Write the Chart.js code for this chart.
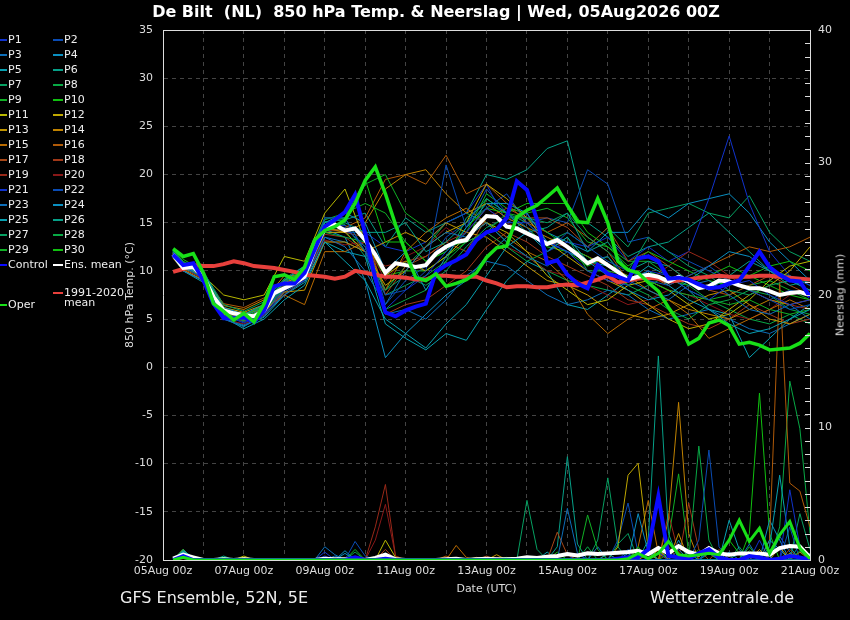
<!DOCTYPE html>
<html>
<head>
<meta charset="utf-8">
<script src="https://cdn.jsdelivr.net/npm/chart.js@4.4.1/dist/chart.umd.min.js"></script>
<style>
  body { margin: 0; background: #000; }
  #wrap { position: relative; width: 850px; height: 620px; background: #000; color: #eee;
          font-family: "DejaVu Sans", "Liberation Sans", sans-serif; overflow: hidden; }
  #myChart { position: absolute; left: 0; top: 0; }
  .txt { position: absolute; white-space: pre; }
  .leg { position: absolute; font-size: 11px; line-height: 14px; white-space: nowrap; color: #eee; }
  .sw { position: absolute; height: 2px; }
</style>
</head>
<body>
<div id="wrap">
  <canvas id="myChart" width="850" height="620"></canvas>
  <div class="txt" style="left:0;width:872px;top:2px;text-align:center;font-size:16px;font-weight:bold;line-height:20px;color:#fff">De Bilt  (NL)  850 hPa Temp. &amp; Neerslag | Wed, 05Aug2026 00Z</div>
  <div class="txt" style="left:120px;top:588px;font-size:16px;line-height:20px">GFS Ensemble, 52N, 5E</div>
  <div class="txt" style="left:650px;top:588px;font-size:16px;line-height:20px">Wetterzentrale.de</div>
  <div class="txt" style="left:840px;top:295px;font-size:11px;line-height:13px;color:#ddd;transform:translate(-50%,-50%) rotate(-90deg)">Neerslag (mm)</div>
  <div id="legend"></div>
</div>
<script>
// tijdas: uren na 05Aug 00z
const DATE_LABELS = ['05Aug 00z', '07Aug 00z', '09Aug 00z', '11Aug 00z', '13Aug 00z',
  '15Aug 00z', '17Aug 00z', '19Aug 00z', '21Aug 00z'];
const STEP_HOURS = Array.from({ length: 64 }, (_, i) => 6 * (i + 1));       // 6h stappen
const MEMBER_HOURS = [6].concat(Array.from({ length: 32 }, (_, i) => 12 * (i + 1)));

const MEMBER_NAMES = ['P1','P2','P3','P4','P5','P6','P7','P8','P9','P10',
  'P11','P12','P13','P14','P15','P16','P17','P18','P19','P20',
  'P21','P22','P23','P24','P25','P26','P27','P28','P29','P30'];
const MEMBER_COLORS = ['#1133cc','#0a4cb4','#0d6eb8','#0a8fc0','#08a0b0','#06a088','#06a062','#08a845','#10b025','#10c010',
  '#b8b800','#c0a800','#c09400','#c08200','#b86a00','#b05a08','#a84818','#a03818','#982818','#881818',
  '#1133cc','#0a4cb4','#0d6eb8','#0a8fc0','#08a0b0','#06a088','#06a062','#08a845','#10b025','#10c010'];

// 850 hPa temperatuur (°C) per member, op MEMBER_HOURS
const MEMBER_TEMP = [
  [11.8,10.8,9.6,5.4,4.6,5.5,8.0,9.0,14.5,14.5,12.5,6.0,8.0,9.5,12.0,14.0,16.5,15.0,15.0,13.0,12.0,10.0,9.0,8.5,10.0,9.5,8.0,7.0,8.5,9.0,7.5,6.5,7.0],
  [11.5,10.5,9.2,6.0,5.0,6.0,8.5,9.8,15.5,15.5,12.0,7.5,8.0,10.0,21.0,14.5,18.5,16.0,14.5,12.0,14.0,12.5,11.0,10.0,9.0,8.5,9.5,10.5,9.0,8.0,7.0,6.0,6.5],
  [12.0,10.0,9.0,5.0,4.2,5.5,7.5,9.0,13.5,12.5,10.0,6.5,10.0,12.5,14.0,13.5,15.0,13.0,11.5,10.5,12.0,11.0,11.5,9.0,8.0,7.0,8.5,9.0,7.5,6.0,5.5,6.5,5.0],
  [11.6,10.2,9.8,6.2,5.5,6.5,9.0,10.5,15.0,16.0,15.0,10.0,12.0,8.0,11.5,14.5,17.0,17.0,16.0,13.0,12.0,11.0,9.5,8.0,7.0,7.5,9.0,10.5,12.0,11.5,10.0,9.0,8.0],
  [11.4,10.0,8.8,5.2,4.0,5.0,7.0,8.5,13.0,11.0,9.0,5.0,3.5,2.0,4.5,6.5,9.5,12.5,14.0,12.0,13.5,11.0,10.5,9.0,10.0,8.5,7.0,6.0,4.5,3.5,4.0,5.0,6.0],
  [11.9,10.6,9.5,5.8,5.3,6.2,8.8,10.0,14.8,15.0,14.0,14.0,15.0,12.0,13.0,15.0,17.5,16.0,14.0,14.5,16.0,12.0,13.0,10.0,11.0,10.5,9.0,8.0,9.5,11.0,10.0,8.5,9.0],
  [12.2,10.9,9.9,6.5,5.8,6.8,9.2,10.5,15.5,15.5,12.0,8.0,9.5,8.5,10.0,12.5,14.5,15.5,15.5,15.0,16.0,13.5,12.0,10.0,13.5,12.0,10.5,9.5,8.0,7.5,8.5,9.0,8.0],
  [11.7,10.4,9.3,5.6,4.8,5.8,8.2,9.5,14.0,13.5,13.0,6.0,7.0,8.0,11.0,13.0,14.0,12.5,11.0,12.0,13.5,10.0,10.0,8.5,7.5,6.0,5.0,6.5,7.0,8.0,7.5,6.0,5.5],
  [11.9,10.9,9.7,6.0,5.2,6.0,8.5,9.5,14.5,15.0,19.0,20.0,16.0,14.5,12.5,13.0,14.0,16.0,15.5,14.0,12.5,11.5,10.0,9.5,9.0,8.0,7.5,7.0,6.5,7.0,6.0,5.5,6.0],
  [12.1,11.2,10.0,6.0,5.4,6.4,9.0,10.0,15.0,15.5,19.5,13.0,13.0,11.0,12.0,14.5,16.5,16.0,17.0,17.0,17.0,14.0,12.5,10.5,12.0,11.0,10.0,9.0,8.5,9.5,10.5,11.0,10.0],
  [11.5,10.3,9.5,7.5,7.0,7.5,11.5,11.0,16.0,18.5,13.0,9.5,11.0,10.0,11.5,13.5,15.0,14.0,12.0,9.5,8.0,6.5,7.0,8.5,9.0,8.0,6.5,5.0,5.5,7.0,9.0,10.5,11.0],
  [11.8,10.5,9.4,6.2,5.7,6.5,8.8,9.5,14.0,14.0,12.0,8.5,10.0,12.5,14.0,15.0,19.0,17.5,15.5,13.0,11.5,10.0,9.0,8.0,6.5,5.0,4.0,4.5,6.0,7.5,8.5,10.0,12.5],
  [11.6,10.1,9.0,5.5,5.0,5.8,7.8,8.0,13.0,13.0,12.0,13.0,14.0,13.0,15.0,14.0,13.5,12.0,10.5,9.0,8.5,7.5,6.0,5.5,5.0,5.5,6.5,7.5,8.0,6.5,5.0,4.5,5.5],
  [11.9,10.7,9.6,6.4,6.0,7.0,9.5,9.5,14.5,14.0,15.0,18.5,20.0,20.5,18.0,16.0,17.0,15.5,14.5,13.5,12.5,11.5,10.5,9.5,8.0,7.0,6.0,5.5,5.0,6.0,7.0,6.5,7.0],
  [11.3,10.0,9.1,5.9,5.6,6.0,7.5,6.5,12.0,12.0,13.0,8.0,12.0,14.0,15.5,16.5,15.0,13.5,12.0,11.0,9.0,5.5,3.5,5.0,6.0,7.0,5.5,3.0,4.0,5.0,6.0,7.0,6.0],
  [11.7,10.5,9.4,6.6,6.2,7.2,9.0,10.0,14.5,14.5,15.5,19.5,20.0,19.0,22.0,18.0,19.0,17.0,15.0,14.0,15.0,13.5,12.0,9.0,9.5,8.5,9.5,10.5,11.5,12.5,12.0,12.5,13.5],
  [11.5,10.2,9.2,5.7,5.1,6.2,8.4,9.8,14.2,14.3,14.0,7.5,10.5,11.5,13.0,12.0,15.5,16.5,15.5,15.5,14.5,12.5,14.5,11.0,12.0,10.5,9.0,8.0,7.5,8.5,9.5,8.5,7.5],
  [11.8,10.6,9.5,6.0,5.5,6.4,8.6,9.6,14.4,14.0,13.5,5.5,6.5,7.0,8.5,10.0,12.5,14.0,13.0,11.5,10.5,9.5,8.5,7.0,6.5,5.5,4.5,4.0,5.0,6.5,5.5,4.5,5.0],
  [11.6,10.4,9.3,5.3,4.8,5.7,8.0,9.2,13.8,13.5,12.0,10.5,11.0,11.5,13.0,14.0,16.5,15.0,14.0,13.0,12.5,11.0,10.0,9.5,9.0,10.5,12.0,11.0,9.5,8.0,7.0,6.5,6.0],
  [11.4,10.1,9.0,5.0,4.5,5.4,7.6,9.0,13.2,12.7,13.0,9.0,11.5,12.5,14.5,13.0,14.0,12.5,11.5,10.0,9.5,8.5,7.5,6.5,7.0,8.0,7.5,6.5,5.5,5.0,6.0,7.5,8.0],
  [12.0,10.7,9.6,5.6,4.9,5.9,8.3,9.4,14.6,14.7,14.0,12.5,12.0,13.0,15.0,16.0,19.0,15.0,16.0,12.0,13.0,12.5,13.5,11.0,12.5,11.0,12.0,17.5,24.0,17.0,12.0,9.5,8.5],
  [11.7,10.5,9.4,5.4,4.7,5.6,8.0,9.3,14.0,14.0,14.0,6.5,9.0,10.5,13.5,15.0,16.5,18.0,15.0,15.5,15.0,20.5,19.0,13.0,13.5,12.0,11.0,10.0,9.0,8.0,7.0,8.0,7.5],
  [11.6,10.3,9.3,5.1,4.4,5.3,7.8,9.0,13.5,13.0,12.0,5.5,6.0,5.0,7.0,9.5,11.0,10.5,9.0,7.5,6.5,7.0,8.0,7.5,6.0,5.0,5.5,6.0,5.0,4.0,3.5,4.5,5.5],
  [11.8,10.4,9.5,5.5,4.9,5.7,8.1,9.5,14.3,13.5,9.0,1.0,3.5,5.5,7.5,9.0,11.5,13.5,15.5,14.0,13.0,12.0,14.0,14.0,16.5,15.5,17.0,17.5,18.0,16.0,13.0,11.0,9.0],
  [11.5,10.0,9.0,5.0,4.3,5.2,7.5,8.8,13.0,12.0,11.5,4.5,3.0,1.8,3.5,2.8,6.0,9.0,11.0,10.0,6.5,6.0,7.5,9.0,10.5,9.5,8.0,6.0,5.5,1.0,3.0,5.0,6.5],
  [11.9,10.7,9.6,5.9,5.4,6.3,8.9,10.1,15.1,15.3,16.0,12.5,15.5,14.0,15.0,16.0,20.0,19.5,20.5,22.7,23.5,15.0,13.5,11.5,12.5,13.0,14.5,16.0,14.0,12.0,10.0,9.5,8.5],
  [11.8,10.6,9.4,5.7,5.0,6.0,8.4,9.6,14.4,14.2,11.5,7.5,8.5,9.5,11.0,15.5,17.0,16.0,15.0,13.0,14.0,12.5,14.5,12.5,16.0,16.5,17.0,16.0,15.5,17.8,14.0,12.0,11.0],
  [12.0,10.8,9.7,5.8,5.1,6.1,8.6,9.8,14.7,14.8,12.0,8.0,10.5,12.5,15.0,16.0,15.0,13.0,11.5,10.0,9.0,8.5,8.0,7.5,8.5,9.5,8.5,7.0,6.0,5.0,4.5,5.5,4.5],
  [12.1,11.0,9.8,6.1,5.3,6.5,9.1,10.2,15.3,16.0,17.0,16.0,13.0,11.0,12.0,14.0,18.0,16.5,16.0,16.5,15.5,13.0,12.5,11.0,11.0,9.5,8.0,7.0,7.5,8.5,9.0,8.0,7.0],
  [11.8,10.8,9.5,5.6,4.9,5.9,8.4,9.7,14.5,14.5,12.5,9.5,10.0,10.0,11.5,13.0,17.5,16.0,14.5,12.5,12.0,10.5,11.5,8.5,10.0,9.0,8.5,9.5,10.5,9.5,8.5,7.5,7.0]
];

// neerslag (mm) per member, op STEP_HOURS
const MEMBER_PREC = [
  [0,.4,0,0,0,0,0,0, 0,0,0,0,0,0,0,.3, 0,0,0,0,0,0,0,0, 0,0,0,0,0,0,0,0, 0,0,0,0,0,0,0,0, .5,0,0,0,0,0,0,0, .6,0,0,0,0,.8,0,0, 0,0,0,0,0,5.3,1,0],
  [0,.3,0,0,0,0,0,0, 0,0,0,0,0,0,0,0, 0,0,1.4,.3,0,0,0,0, 0,0,0,0,0,0,0,0, 0,0,0,0,0,0,0,0, 0,0,0,0,0,.8,0,0, 0,0,0,0,1.5,8.3,1,0, 0,0,.6,0,0,0,0,0],
  [0,.5,0,0,0,0,0,0, 0,0,0,0,0,0,0,1, .4,0,0,0,0,0,0,0, 0,0,0,0,0,0,0,0, 0,0,0,0,0,0,0,3.9, .5,0,0,0,0,0,0,0, 0,0,.8,0,0,0,0,0, 0,1.2,0,0,0,0,0,.5],
  [0,.6,0,0,0,0,0,0, 0,0,0,0,0,0,0,0, 0,.7,0,0,0,.3,0,0, 0,0,0,0,0,0,0,0, 0,0,0,0,0,0,0,0, 0,0,0,0,0,0,3.5,.6, 0,0,0,0,0,0,0,.6, 0,0,0,1.5,.8,0,0,0],
  [0,.7,.2,0,0,0,0,0, 0,0,0,0,0,0,0,0, 0,0,0,0,0,0,0,0, 0,0,0,0,0,0,0,0, 0,0,0,0,0,0,0,0, 0,0,0,.5,0,0,0,0, 0,0,0,.6,0,0,0,0, 0,0,0,1,6.4,1,0,0],
  [0,.5,0,0,0,.3,0,0, 0,0,0,0,0,0,0,0, 0,0,0,0,0,0,0,0, 0,0,0,0,0,0,0,0, 0,0,0,0,0,0,0,0, 0,0,0,0,0,0,0,1.5, 15.4,2,0,0,0,0,0,0, .6,0,0,0,0,0,0,0],
  [0,.8,0,0,0,0,0,0, 0,0,0,0,0,0,0,0, 0,0,0,0,0,0,0,0, 0,0,0,0,0,0,0,0, 0,0,0,4.5,.8,0,0,0, 0,0,0,0,1.2,2,0,0, 0,0,0,0,0,1,0,0, 0,0,0,0,0,0,0,0],
  [0,.4,0,0,0,0,0,0, 0,0,0,0,0,0,0,0, 0,0,.6,0,0,0,0,0, 0,0,0,0,0,0,0,0, 0,0,0,0,0,0,0,0, 0,1,0,0,0,0,0,0, 0,0,0,0,8.6,1.5,0,0, 0,0,0,0,0,0,.7,0],
  [0,.3,0,0,0,.2,0,0, 0,0,0,0,0,0,0,0, 0,0,0,0,0,0,0,0, 0,0,0,0,0,0,0,0, 0,0,0,0,0,0,0,0, 0,3.4,.8,0,0,0,0,0, 0,.5,0,0,0,0,0,0, 0,.7,0,0,0,0,0,0],
  [0,.6,0,0,0,0,0,0, 0,0,0,0,0,0,0,0, 0,0,0,0,.2,0,0,0, 0,0,0,0,0,0,0,0, 0,0,0,0,0,0,.6,0, 0,0,0,0,0,0,1,0, 0,0,0,0,0,0,0,1.5, .5,0,0,0,0,0,0,0],
  [0,.8,0,0,0,0,0,.3, 0,0,0,0,0,0,0,0, 0,0,0,0,0,1.5,.2,0, 0,0,0,0,0,0,0,0, 0,0,0,0,0,0,0,0, 0,0,0,0,0,0,0,0, .8,0,0,0,0,0,0,0, 0,0,0,0,0,.5,0,0],
  [0,.6,0,0,0,0,0,.2, 0,0,0,0,0,0,0,0, 0,0,0,0,0,0,0,0, 0,0,0,0,0,0,0,0, 0,0,0,0,0,0,0,0, 0,0,0,0,1,6.4,7.3,.8, 0,0,0,0,0,0,0,0, 0,0,0,0,1,0,0,0],
  [0,.4,0,0,0,0,0,0, 0,0,0,0,0,0,0,0, 0,0,0,0,0,0,0,0, 0,0,0,0,0,0,0,0, .4,0,0,0,0,0,0,0, 0,0,0,0,0,0,0,.5, 0,0,2,0,0,0,0,0, 0,0,.8,0,0,0,0,0],
  [0,.3,0,0,0,0,0,0, 0,0,0,0,0,0,0,0, 0,0,0,0,0,0,0,0, 0,0,0,0,0,0,.2,0, 0,0,0,0,0,0,0,0, 0,0,0,0,0,0,0,0, 0,3,11.9,2,0,0,0,0, 0,0,0,0,0,0,.6,0],
  [0,.2,0,0,0,0,0,0, 0,0,0,0,0,0,0,0, 0,0,0,0,0,0,0,0, 0,0,0,0,1.1,.2,0,0, 0,0,0,0,0,0,0,0, 0,0,0,0,0,0,1,4.5, .5,0,0,0,0,0,0,0, 0,.4,0,0,0,0,0,0],
  [0,.3,0,0,0,0,0,0, 0,0,0,0,0,0,0,0, 0,0,0,0,0,0,0,0, 0,0,0,.3,0,0,0,0, 0,0,0,0,0,0,0,0, 0,0,0,0,0,0,0,0, 0,0,0,0,0,0,0,0, 0,0,0,1.5,21,5.8,5.2,2.5],
  [0,.2,0,0,0,0,0,0, 0,0,0,0,0,0,0,0, 0,0,0,0,0,0,0,0, 0,0,0,0,0,0,0,.3, 0,0,0,0,0,0,2.1,.4, 0,0,0,0,0,0,0,0, 0,0,0,0,0,0,.8,0, 0,0,0,0,0,.8,0,0],
  [0,.3,0,0,0,0,0,0, 0,0,0,0,0,0,0,0, 0,0,0,0,0,.8,0,0, 0,0,0,0,0,0,0,0, 0,0,0,0,0,0,0,0, 0,0,0,0,0,0,0,0, 0,1,0,4.3,.8,0,0,0, 0,0,0,0,0,0,0,0],
  [0,.2,0,0,0,0,0,0, 0,0,0,0,0,0,0,0, 0,0,0,0,2.5,5.7,.3,0, 0,0,0,0,0,0,0,0, 0,0,0,0,0,0,0,0, 0,0,0,.5,0,0,0,0, 0,3.5,.5,0,0,0,0,0, 0,0,0,0,0,0,0,0],
  [0,.1,0,0,0,0,0,0, 0,0,0,0,0,0,0,0, 0,0,0,0,1.5,4.2,.3,0, 0,0,0,0,0,0,0,0, .2,0,0,0,0,0,0,0, 0,0,0,0,0,0,0,0, 0,0,0,0,0,0,0,0, .6,0,0,0,0,0,0,0],
  [0,.4,0,0,0,0,0,0, 0,0,0,0,0,0,0,.6, 0,0,0,0,0,0,0,0, 0,0,0,0,0,0,0,0, 0,0,0,0,0,0,0,0, 0,0,0,0,0,0,0,.7, 0,0,0,0,0,0,0,0, 0,0,1.5,0,0,0,0,.3],
  [0,.4,0,0,0,0,0,0, 0,0,0,0,0,0,0,0, 0,0,0,0,0,0,0,0, 0,0,0,0,0,0,0,0, 0,0,0,0,0,0,0,0, 0,0,0,0,1.5,4.3,.5,0, 0,0,0,0,0,0,0,0, 0,0,0,0,0,2.5,0,0],
  [0,.5,0,0,0,0,0,0, 0,0,0,0,0,0,0,0, .3,0,0,0,0,0,0,0, 0,0,0,0,0,0,0,0, 0,0,0,0,0,0,0,0, 0,0,1,0,0,0,0,0, 0,0,0,0,0,.6,0,0, 0,0,0,0,1.8,.6,0,0],
  [0,.6,0,0,0,0,0,0, 0,0,0,0,0,0,0,0, 0,.5,0,0,0,0,0,0, 0,0,0,0,0,0,0,0, 0,0,0,0,0,0,0,0, 0,0,0,0,0,.5,0,0, 0,0,1.5,0,0,0,0,0, 0,0,0,3,1.5,0,0,0],
  [0,.5,0,0,0,0,0,0, 0,0,0,0,0,0,0,0, 0,0,.2,0,0,0,0,0, 0,0,0,0,0,0,0,0, 0,0,0,0,0,.6,0,0, 0,0,0,0,0,0,0,0, 1,0,0,0,0,0,0,3, .8,0,0,0,0,0,0,0],
  [0,.6,0,0,0,0,0,0, 0,0,0,0,0,0,0,0, 0,0,0,0,0,0,0,0, 0,0,0,0,0,0,0,0, 0,0,0,0,0,0,1,7.8, 1.2,0,0,0,0,0,0,0, 0,0,0,0,0,.5,0,0, 0,0,0,0,0,0,1.2,0],
  [0,.7,0,0,0,0,0,0, 0,0,0,0,0,0,0,0, 0,0,0,0,0,0,0,0, 0,0,0,0,0,0,0,0, 0,0,0,0,0,0,0,0, 0,0,1.5,6.2,1,0,0,0, 0,0,0,0,0,0,0,0, 1,0,0,0,0,0,3.5,.8],
  [0,.5,0,0,0,.2,0,0, 0,0,0,0,0,0,0,0, 0,0,0,0,0,0,0,0, 0,0,0,0,0,0,0,0, 0,0,0,0,0,0,0,0, 0,0,0,0,0,0,0,.8, 0,0,0,0,0,0,0,0, 0,0,0,0,2.5,13.5,9.9,2],
  [0,.8,0,0,0,0,0,0, 0,0,0,0,0,0,0,0, 0,0,.8,0,0,0,0,0, 0,0,0,0,0,0,0,0, 0,0,0,0,0,0,0,0, 0,0,0,0,0,0,0,0, 0,1.5,6.5,.5,0,0,0,0, 0,1,0,0,0,0,0,0],
  [0,.7,0,0,0,0,0,0, 0,0,0,0,0,0,0,0, 0,0,0,0,0,0,0,0, 0,0,0,0,0,0,0,0, 0,.2,0,0,0,0,0,0, 0,0,0,0,0,0,0,0, 0,0,0,0,.8,0,0,0, 0,2,12.6,2,0,0,0,0]
];

// operationele run, control, ensemble-gemiddelde en klimaat (op STEP_HOURS)
const OPER_TEMP = [12.3,11.5,11.8,9.8,6.6,5.8,4.9,5.6, 4.7,6.6,9.4,9.6,9.1,10.4,13.2,14.2,
  14.6,15.3,17.0,19.4,20.8,18.0,14.8,11.9, 9.3,9.0,9.7,8.4,8.7,9.1,9.8,11.4,
  12.4,12.6,15.6,16.3,16.8,17.7,18.6,16.8, 15.1,15.0,17.5,15.0,11.0,10.1,9.8,8.8,
  7.9,6.2,4.7,2.4,3.0,4.6,4.9,4.3, 2.4,2.6,2.3,1.8,1.9,2.0,2.5,3.5];
const CONTROL_TEMP = [11.7,10.6,10.8,9.0,6.6,5.1,5.1,5.2, 4.7,5.9,8.4,8.7,8.7,9.8,12.2,14.6,
  15.3,16.1,17.9,13.9,9.2,5.7,5.3,5.9, 6.3,6.6,9.9,10.6,11.1,11.7,13.2,14.0,
  14.3,15.5,19.3,18.4,15.3,10.8,11.1,9.6, 8.7,8.2,10.6,9.7,9.4,9.0,11.3,11.5,
  11.0,9.2,9.3,9.1,8.6,8.2,8.3,8.7, 9.0,10.5,12.0,10.4,9.6,9.0,8.9,7.3];
const MEAN_TEMP = [11.7,10.3,10.4,9.4,7.3,5.9,5.6,5.4, 5.3,5.9,7.7,8.2,8.7,9.4,12.2,14.4,
  14.8,14.2,14.4,13.2,11.7,9.8,10.8,10.6, 10.4,10.6,11.8,12.5,13.0,13.2,14.6,15.7,
  15.6,14.6,14.4,13.9,13.4,12.8,13.2,12.5, 11.7,10.8,11.3,10.6,9.9,9.1,9.4,9.6,
  9.4,8.9,9.4,8.9,8.2,8.4,9.0,8.9, 8.5,8.2,8.2,7.9,7.5,7.7,7.8,7.5];
const CLIM_TEMP = [9.9,10.2,10.6,10.5,10.5,10.7,11.0,10.8, 10.5,10.4,10.3,10.1,9.9,9.6,9.5,9.4,
  9.2,9.4,10.0,9.8,9.6,9.4,9.4,9.3, 9.1,9.1,9.5,9.5,9.4,9.4,9.4,9.0,
  8.7,8.3,8.4,8.4,8.3,8.3,8.5,8.6, 8.5,8.8,9.1,9.5,8.8,9.0,9.2,9.3,
  9.2,8.9,9.0,9.1,9.3,9.4,9.5,9.4, 9.4,9.4,9.5,9.5,9.4,9.3,9.2,9.1];

const OPER_PREC = [0,.2,0,0,0,0,0,0, 0,0,0,0,0,0,0,0, 0,0,0,0,0,0,0,0, 0,0,0,0,0,0,0,0,
  0,0,0,0,0,0,0,0, 0,0,0,0,0,.1,.5,.1, .5,1.4,.4,.3,.4,.5,.4,1.5, 3.0,1.4,2.4,.5,1.9,2.9,.9,.1];
const CONTROL_PREC = [0,.3,0,0,0,0,0,0, 0,0,0,0,0,0,0,0, 0,0,.2,0,0,.1,0,0, 0,0,0,0,0,0,0,0,
  0,0,0,0,0,0,0,0, 0,0,0,0,.1,.2,.2,.8, 4.8,.3,.2,.1,.5,.8,.2,0, 0,.3,.2,0,.1,.3,.2,0];
const MEAN_PREC = [.1,.4,.2,0,0,.05,0,.05, 0,0,0,0,0,0,0,.1, .05,.05,.1,0,.15,.4,.05,0,
  0,0,0,.05,.1,0,.05,.1, .05,.05,.1,.2,.15,.25,.3,.45, .35,.5,.45,.5,.55,.6,.7,.45,
  .9,.5,1.05,.6,.4,.9,.5,.4, .5,.5,.5,.4,.9,1.05,1,.2];

function pts(hours, vals) {
  return vals.map((v, i) => ({ x: hours[i], y: v }));
}

const datasets = [];
MEMBER_NAMES.forEach((name, i) => {
  datasets.push({ label: name, data: pts(MEMBER_HOURS, MEMBER_TEMP[i]), yAxisID: 'y',
    borderColor: MEMBER_COLORS[i], borderWidth: 1, order: 10 });
  datasets.push({ label: name + ' neerslag', data: pts(STEP_HOURS, MEMBER_PREC[i]), yAxisID: 'y2',
    borderColor: MEMBER_COLORS[i], borderWidth: 1, order: 10 });
});
datasets.push(
  { label: '1991-2020 mean', data: pts(STEP_HOURS, CLIM_TEMP), yAxisID: 'y', borderColor: '#e8403c', borderWidth: 4, order: 4 },
  { label: 'Ens. mean', data: pts(STEP_HOURS, MEAN_TEMP), yAxisID: 'y', borderColor: '#ffffff', borderWidth: 4, order: 3 },
  { label: 'Ens. mean neerslag', data: pts(STEP_HOURS, MEAN_PREC), yAxisID: 'y2', borderColor: '#ffffff', borderWidth: 4, order: 3 },
  { label: 'Control', data: pts(STEP_HOURS, CONTROL_TEMP), yAxisID: 'y', borderColor: '#0a0aff', borderWidth: 4, order: 2 },
  { label: 'Control neerslag', data: pts(STEP_HOURS, CONTROL_PREC), yAxisID: 'y2', borderColor: '#0a0aff', borderWidth: 4, order: 2 },
  { label: 'Oper', data: pts(STEP_HOURS, OPER_TEMP), yAxisID: 'y', borderColor: '#18e018', borderWidth: 3.5, order: 1 },
  { label: 'Oper neerslag', data: pts(STEP_HOURS, OPER_PREC), yAxisID: 'y2', borderColor: '#18e018', borderWidth: 3, order: 1 }
);

// kader bovenrand + korte streepjes rechter as
const framePlugin = {
  id: 'frame',
  afterDraw(chart) {
    const { ctx, chartArea: a, scales } = chart;
    ctx.save();
    ctx.strokeStyle = '#ddd';
    ctx.lineWidth = 1;
    ctx.beginPath();
    ctx.moveTo(a.left, a.top + 0.5);
    ctx.lineTo(a.right, a.top + 0.5);
    scales.y2.ticks.forEach(t => {
      const y = Math.round(scales.y2.getPixelForValue(t.value)) + 0.5;
      ctx.moveTo(a.right - 5, y);
      ctx.lineTo(a.right, y);
    });
    ctx.stroke();
    ctx.restore();
  }
};

const tickFont = { family: '"DejaVu Sans", sans-serif', size: 11 };

const config = {
  type: 'line',
  data: { datasets: datasets },
  options: {
    responsive: false,
    animation: false,
    elements: { point: { radius: 0 }, line: { tension: 0 } },
    layout: { padding: { left: 115, right: 0, top: 30, bottom: 24 } },
    plugins: { legend: { display: false }, tooltip: { enabled: false } },
    scales: {
      x: {
        type: 'linear', min: 0, max: 384,
        ticks: { stepSize: 24, autoSkip: false, maxRotation: 0, color: '#ddd', font: tickFont, padding: 5,
          callback: v => (v % 48 === 0 ? DATE_LABELS[v / 48] : '') },
        grid: { color: '#444', drawTicks: false },
        border: { color: '#ddd', dash: [4, 4] },
        title: { display: true, text: 'Date (UTC)', color: '#ddd', font: tickFont, padding: 0 },
        afterFit(s) { s.height = 36; }
      },
      y: {
        min: -20, max: 35,
        ticks: { stepSize: 5, color: '#ddd', font: tickFont, padding: 10 },
        grid: { color: '#444', drawTicks: false },
        border: { color: '#ddd', dash: [4, 4] },
        title: { display: true, text: '850 hPa Temp. (°C)', color: '#ddd', font: tickFont, padding: 9 },
        afterFit(s) { s.width = 48; }
      },
      y2: {
        position: 'right', min: 0, max: 40,
        ticks: { stepSize: 1, autoSkip: false, color: '#ddd', font: tickFont, padding: 8,
          callback: v => (v % 10 === 0 ? v : '') },
        grid: { display: false, drawTicks: false },
        border: { color: '#ddd' },
        afterFit(s) { s.width = 40; }
      }
    }
  },
  plugins: [framePlugin]
};

var myChart = new Chart(document.getElementById('myChart'), config);

// legenda links, twee kolommen
const legend = document.getElementById('legend');
function addLegend(x, yMid, color, text, swatchW, textX) {
  const sw = document.createElement('div');
  sw.className = 'sw';
  sw.style.left = x + 'px';
  sw.style.top = (yMid - 1) + 'px';
  sw.style.width = swatchW + 'px';
  sw.style.background = color;
  legend.appendChild(sw);
  const t = document.createElement('div');
  t.className = 'leg';
  t.style.left = textX + 'px';
  t.style.top = (yMid - 7) + 'px';
  t.innerHTML = text;
  legend.appendChild(t);
}
MEMBER_NAMES.forEach((name, i) => {
  const col = i % 2, row = Math.floor(i / 2);
  if (col === 0) addLegend(0, 40 + row * 15, MEMBER_COLORS[i], name, 7, 8);
  else addLegend(53, 40 + row * 15, MEMBER_COLORS[i], name, 10, 64);
});
addLegend(0, 265, '#0a0aff', 'Control', 7, 8);
addLegend(53, 265, '#ffffff', 'Ens. mean', 10, 64);
addLegend(53, 293, '#e8403c', '1991-2020', 10, 64);
addLegend(53, 303, 'transparent', 'mean', 0, 64);
addLegend(0, 305, '#18e018', 'Oper', 7, 8);
</script>
</body>
</html>
